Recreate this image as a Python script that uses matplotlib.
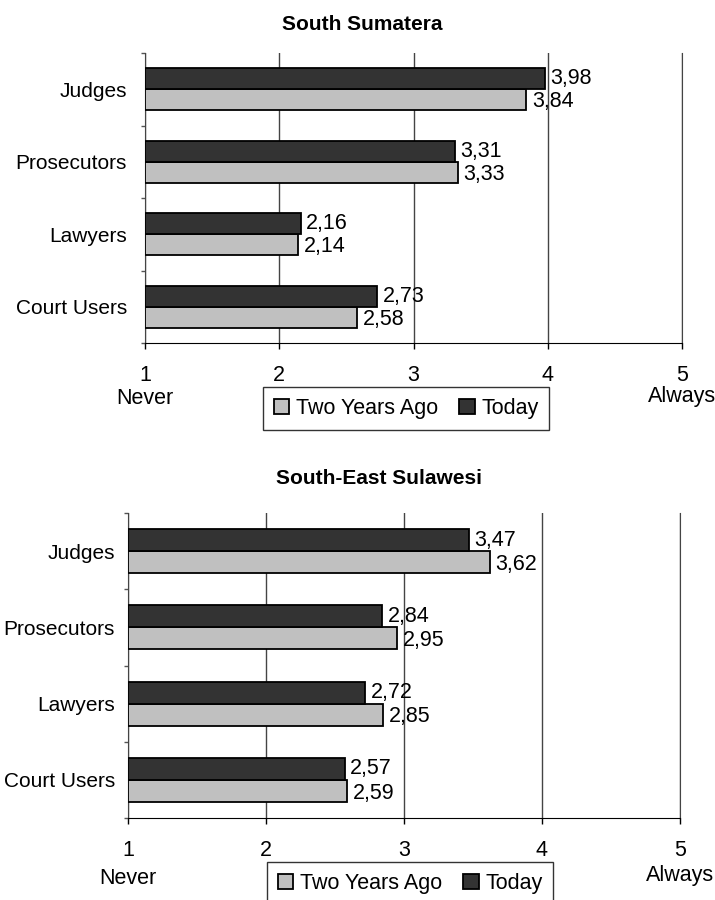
import matplotlib
matplotlib.use("Agg")
import matplotlib.pyplot as plt

plt.rcParams["font.family"] = ["Liberation Sans", "DejaVu Sans"]

# Survey scores (1 = Never, 5 = Always) by respondent group
categories = ["Judges", "Prosecutors", "Lawyers", "Court Users"]
series_names = ["Two Years Ago", "Today"]

sumatera_two_years_ago = [3.84, 3.33, 2.14, 2.58]
sumatera_today = [3.98, 3.31, 2.16, 2.73]

sulawesi_two_years_ago = [3.62, 2.95, 2.85, 2.59]
sulawesi_today = [3.47, 2.84, 2.72, 2.57]

x_ticks = [1, 2, 3, 4, 5]
scale_low_label = "Never"
scale_high_label = "Always"

LIGHT = "#c0c0c0"
DARK = "#333333"
BAR_H = 0.29

W, H = 715, 900
fig = plt.figure(figsize=(W / 100, H / 100), dpi=100)


def fmt(v):
    return f"{v:.2f}".replace(".", ",")


def draw_panel(ax, title, title_xy, before, today, cat_pad, legend_xy, scale_off):
    n = len(categories)
    centers = [n - 0.5 - i for i in range(n)]
    base = x_ticks[0]

    light_y = [c - BAR_H / 2 for c in centers]
    dark_y = [c + BAR_H / 2 for c in centers]
    ax.barh(light_y, [v - base for v in before], left=base, height=BAR_H,
            color=LIGHT, edgecolor="black", linewidth=1.3, label=series_names[0], zorder=3)
    ax.barh(dark_y, [v - base for v in today], left=base, height=BAR_H,
            color=DARK, edgecolor="black", linewidth=1.3, label=series_names[1], zorder=3)

    for y, v in zip(light_y, before):
        ax.annotate(fmt(v), (v, y), xytext=(4, -1.5), textcoords="offset points",
                    ha="left", va="center", fontsize=15.5, zorder=4)
    for y, v in zip(dark_y, today):
        ax.annotate(fmt(v), (v, y), xytext=(4, 0), textcoords="offset points",
                    ha="left", va="center", fontsize=15.5, zorder=4)

    ax.set_xlim(x_ticks[0], x_ticks[-1])
    ax.set_ylim(0, n)

    ax.set_xticks(x_ticks)
    ax.set_xticklabels([str(t) for t in x_ticks], fontsize=15.5)
    ax.tick_params(axis="x", direction="out", length=4.5, width=1, pad=11, colors="black")

    ax.set_yticks(range(n + 1))
    ax.set_yticklabels([])
    ax.tick_params(axis="y", which="major", direction="out", length=3, width=1, color="#555555")
    ax.set_yticks(centers, minor=True)
    ax.set_yticklabels(categories, minor=True, fontsize=15)
    ax.tick_params(axis="y", which="minor", length=0, pad=cat_pad)

    ax.grid(axis="x", color="#444444", linewidth=1.0)
    ax.grid(axis="y", visible=False)
    ax.set_axisbelow(True)

    ax.spines["top"].set_visible(False)
    ax.spines["right"].set_color("#444444")
    ax.spines["left"].set_color("#444444")
    ax.spines["bottom"].set_color("black")

    ax.annotate(scale_low_label, (x_ticks[0], 0), xycoords=("data", "axes fraction"),
                xytext=(0, -scale_off), textcoords="offset pixels",
                ha="center", va="center", fontsize=15.5)
    ax.annotate(scale_high_label, (x_ticks[-1], 0), xycoords=("data", "axes fraction"),
                xytext=(0, -scale_off + 2), textcoords="offset pixels",
                ha="center", va="center", fontsize=15.5)

    fig.text(title_xy[0] / W, 1 - title_xy[1] / H, title, ha="center", va="center",
             fontsize=15, fontweight="bold")

    handles, labels = ax.get_legend_handles_labels()
    leg = fig.legend(handles, labels, loc="upper left",
                     bbox_to_anchor=(legend_xy[0] / W, 1 - legend_xy[1] / H),
                     ncol=2, fontsize=15.5, frameon=True, fancybox=False, shadow=False,
                     handlelength=0.72, handleheight=0.72, handletextpad=0.3,
                     columnspacing=1.0, borderpad=0.5, borderaxespad=0)
    frame = leg.get_frame()
    frame.set_edgecolor("black")
    frame.set_linewidth(1.0)


ax1 = fig.add_axes([145 / W, 1 - 343 / H, (682 - 145) / W, (343 - 53) / H])
draw_panel(ax1, "South Sumatera", (362, 25), sumatera_two_years_ago, sumatera_today,
           cat_pad=13, legend_xy=(263, 387), scale_off=55)

ax2 = fig.add_axes([128 / W, 1 - 818 / H, (680 - 128) / W, (818 - 513) / H])
draw_panel(ax2, "South-East Sulawesi", (379, 478), sulawesi_two_years_ago, sulawesi_today,
           cat_pad=9.5, legend_xy=(267, 862), scale_off=60)

fig.savefig("out.png", dpi=100)
